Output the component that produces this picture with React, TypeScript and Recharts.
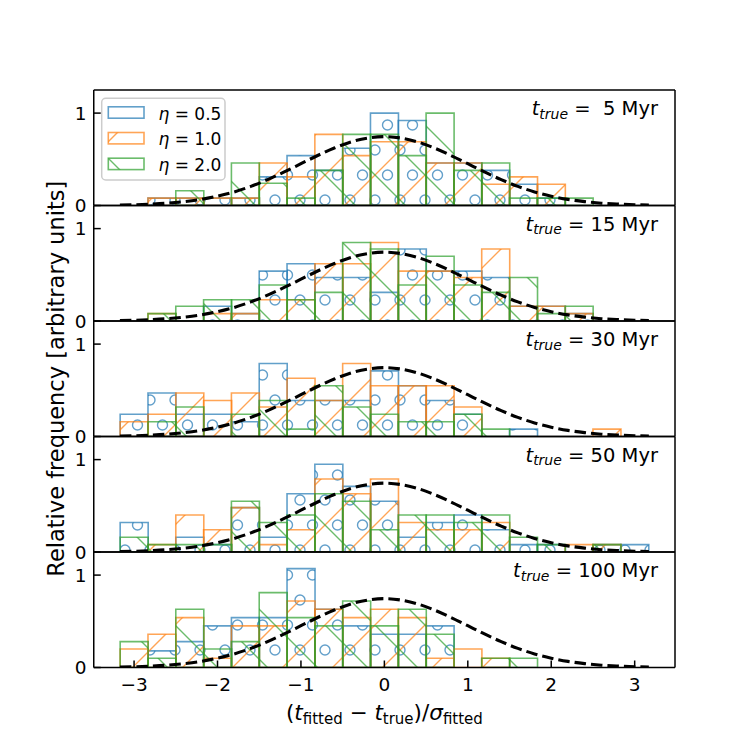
import React from 'react';
import { ComposedChart, Bar, Line, XAxis, YAxis, Legend, Customized } from 'recharts';

// ---- colours & fonts -------------------------------------------------------
const BLUE = '#1f77b4';
const ORANGE = '#ff7f0e';
const GREEN = '#2ca02c';
const ALPHA = 0.7;
const FONT = '"DejaVu Sans", "Liberation Sans", sans-serif';

// ---- figure layout ---------------------------------------------------------
const FIG = 750;
const AX_LEFT = 93.75;
const AX_RIGHT = 675;
const AX_TOP = 90;
const AX_BOTTOM = 667.5;
const N_PANELS = 5;
const PANEL_H = (AX_BOTTOM - AX_TOP) / N_PANELS;

// ---- axes ------------------------------------------------------------------
const BIN_EDGE = 19 / 6; // histogram range is [-BIN_EDGE, BIN_EDGE]
const X_LIM = BIN_EDGE * 1.1;
const Y_MAX = 1.25;
const X_TICKS = [-3, -2, -1, 0, 1, 2, 3];
const Y_TICKS = [0, 1];

// ---- data ------------------------------------------------------------------
const BIN_CENTERS = [
  '-3.00', '-2.67', '-2.33', '-2.00', '-1.67', '-1.33', '-1.00', '-0.67', '-0.33', '0.00',
  '0.33', '0.67', '1.00', '1.33', '1.67', '2.00', '2.33', '2.67', '3.00',
];

const AGE_LABELS = [' 5', '15', '30', '50', '100'];
const ETA_LABELS = ['0.5', '1.0', '2.0'];

// eta = 0.5
const ETA05_5 = [0, 0.08, 0.08, 0.08, 0.08, 0.31, 0.54, 0.38, 0.62, 1.0, 0.92, 0.46, 0.46, 0.38, 0.23, 0.08, 0, 0, 0];
const ETA05_15 = [0, 0, 0, 0.16, 0.08, 0.54, 0.62, 0.47, 0.47, 0.31, 0.78, 0.54, 0.54, 0.47, 0.16, 0.16, 0.08, 0, 0];
const ETA05_30 = [0.24, 0.47, 0.24, 0.24, 0.16, 0.79, 0.39, 0.39, 0.39, 0.71, 0.55, 0.39, 0.24, 0, 0.08, 0, 0, 0, 0];
const ETA05_50 = [0.32, 0, 0.16, 0.08, 0.48, 0.16, 0.63, 0.95, 0.71, 0.55, 0.16, 0.32, 0.4, 0.24, 0.08, 0.08, 0, 0.08, 0.08];
const ETA05_100 = [0, 0.18, 0.28, 0.45, 0.54, 0.54, 1.07, 0.63, 0.45, 0.36, 0.36, 0.45, 0, 0, 0, 0, 0, 0, 0];

// eta = 1.0
const ETA10_5 = [0, 0.08, 0.08, 0.08, 0.08, 0.46, 0.31, 0.77, 0.54, 0.69, 0.69, 0.46, 0.46, 0.23, 0.31, 0.23, 0, 0, 0];
const ETA10_15 = [0, 0.08, 0, 0.08, 0.08, 0.23, 0.23, 0.62, 0.62, 0.85, 0.54, 0.54, 0.47, 0.78, 0.16, 0.16, 0.08, 0, 0];
const ETA10_30 = [0.16, 0.24, 0.47, 0.39, 0.47, 0.32, 0.63, 0.39, 0.79, 0.55, 0.55, 0.55, 0.32, 0, 0, 0, 0, 0.08, 0];
const ETA10_50 = [0, 0.08, 0.4, 0.24, 0.48, 0.08, 0.24, 0.79, 0.63, 0.79, 0.32, 0.24, 0.24, 0.32, 0, 0, 0.08, 0.08, 0];
const ETA10_100 = [0.2, 0.36, 0.54, 0.1, 0.45, 0.45, 0.72, 0.63, 0.54, 0.63, 0.54, 0.1, 0.2, 0.1, 0, 0, 0, 0, 0];

// eta = 2.0
const ETA20_5 = [0, 0, 0.16, 0, 0.46, 0.24, 0.08, 0.38, 0.77, 0.77, 0.54, 1.0, 0.38, 0.46, 0.08, 0.08, 0.08, 0, 0];
const ETA20_15 = [0, 0.08, 0.16, 0.23, 0.23, 0.39, 0.23, 0.31, 0.85, 0.78, 0.39, 0.7, 0.39, 0.31, 0.47, 0.08, 0.16, 0, 0];
const ETA20_30 = [0, 0.16, 0.32, 0, 0.24, 0.39, 0.08, 0.55, 0.32, 0.24, 0.16, 0.16, 0.24, 0.08, 0, 0, 0, 0, 0];
const ETA20_50 = [0.16, 0.08, 0.08, 0.08, 0.55, 0.32, 0.4, 0.63, 0.55, 0.24, 0.4, 0.4, 0.32, 0.4, 0.16, 0.08, 0, 0.08, 0];
const ETA20_100 = [0.28, 0.1, 0.63, 0.2, 0.28, 0.81, 0.54, 0.45, 0.72, 0.45, 0.63, 0.36, 0, 0.1, 0.1, 0, 0, 0, 0];

const ETA05 = [ETA05_5, ETA05_15, ETA05_30, ETA05_50, ETA05_100];
const ETA10 = [ETA10_5, ETA10_15, ETA10_30, ETA10_50, ETA10_100];
const ETA20 = [ETA20_5, ETA20_15, ETA20_30, ETA20_50, ETA20_100];

// reference normal curve (same in every panel)
const CURVE_X = [
  -3.17, -3.0, -2.8, -2.6, -2.4, -2.2, -2.0, -1.8, -1.6, -1.4, -1.2, -1.0, -0.8, -0.6, -0.4, -0.2, 0,
  0.2, 0.4, 0.6, 0.8, 1.0, 1.2, 1.4, 1.6, 1.8, 2.0, 2.2, 2.4, 2.6, 2.8, 3.0, 3.17,
];
const CURVE_Y = [
  0.005, 0.008, 0.015, 0.025, 0.042, 0.066, 0.101, 0.147, 0.207, 0.28, 0.363, 0.452, 0.541, 0.622, 0.688, 0.73, 0.745,
  0.73, 0.688, 0.622, 0.541, 0.452, 0.363, 0.28, 0.207, 0.147, 0.101, 0.066, 0.042, 0.025, 0.015, 0.008, 0.005,
];
const CURVE = CURVE_X.map((x, i) => ({ x, y: CURVE_Y[i] }));

const SERIES = [
  { key: 'eta05', color: BLUE, hatch: 'o', values: ETA05, label: ETA_LABELS[0] },
  { key: 'eta10', color: ORANGE, hatch: 'ne', values: ETA10, label: ETA_LABELS[1] },
  { key: 'eta20', color: GREEN, hatch: 'se', values: ETA20, label: ETA_LABELS[2] },
];

const AXIS_STYLE = { stroke: '#000', strokeWidth: 1.5 };
const TICK_FONT = { fontSize: 18.5, fill: '#000', fontFamily: FONT };
const minus = (v: number) => String(v).replace('-', '\u2212');

// hatch patterns anchored to page coordinates so they run on across panels
function HatchDefs({ id }: { id: string }) {
  const hs = { strokeOpacity: ALPHA, strokeWidth: 1.4, fill: 'none' };
  return (
    <defs>
      <pattern id={`${id}-o`} patternUnits="userSpaceOnUse" x={0} y={0} width={25} height={50}>
        {[
          [0, 0],
          [25, 0],
          [0, 50],
          [25, 50],
          [12.5, 25],
        ].map(([cx, cy], k) => (
          <circle key={k} cx={cx} cy={cy} r={5} stroke={BLUE} {...hs} />
        ))}
      </pattern>
      <pattern id={`${id}-ne`} patternUnits="userSpaceOnUse" x={0} y={0} width={50} height={50}>
        <path d="M-10,60 L60,-10 M-10,10 L10,-10 M40,60 L60,40" stroke={ORANGE} {...hs} />
      </pattern>
      <pattern id={`${id}-se`} patternUnits="userSpaceOnUse" x={0} y={0} width={50} height={50}>
        <path d="M-10,-10 L60,60 M40,-10 L60,10 M-10,40 L10,60" stroke={GREEN} {...hs} />
      </pattern>
    </defs>
  );
}

function LegendBox() {
  return (
    <svg width={240} height={190} style={{ display: 'block', overflow: 'visible' }}>
      <HatchDefs id="lg" />
      <rect x={101.7} y={98.3} width={123.3} height={81.7} rx={4} fill="#fff" fillOpacity={0.8} stroke="#cccccc" strokeWidth={1.5} />
      {SERIES.map((s, i) => (
        <g key={s.key}>
          <rect
            x={108.3}
            y={106.8 + i * 25.7}
            width={35.7}
            height={11.4}
            fill={`url(#lg-${s.hatch})`}
            stroke={s.color}
            strokeOpacity={ALPHA}
            strokeWidth={1.6}
          />
          <text x={158.5} y={119.5 + i * 25.7} fontFamily={FONT} fontSize={17} fill="#000" xmlSpace="preserve">
            <tspan fontStyle="italic">η</tspan>
            <tspan>{` = ${s.label}`}</tspan>
          </text>
        </g>
      ))}
    </svg>
  );
}

function PanelText({ index }: { index: number }) {
  const top = AX_TOP + PANEL_H * index;
  const isLast = index === N_PANELS - 1;
  return (
    <g fontFamily={FONT} fill="#000">
      <text x={658} y={top + 25} textAnchor="end" fontSize={19.5} xmlSpace="preserve" style={{ whiteSpace: 'pre' }}>
        <tspan fontStyle="italic">t</tspan>
        <tspan fontStyle="italic" fontSize={14} dy={3.5}>true</tspan>
        <tspan dy={-3.5}>{` = ${AGE_LABELS[index]} Myr`}</tspan>
      </text>
      {index === 2 && (
        <text
          transform={`translate(64, ${(AX_TOP + AX_BOTTOM) / 2}) rotate(-90)`}
          textAnchor="middle"
          fontSize={22.5}
        >
          Relative frequency [arbitrary units]
        </text>
      )}
      {isLast && (
        <text x={(AX_LEFT + AX_RIGHT) / 2} y={720} textAnchor="middle" fontSize={21.5} xmlSpace="preserve">
          <tspan>(</tspan>
          <tspan fontStyle="italic">t</tspan>
          <tspan fontSize={15} dy={4}>fitted</tspan>
          <tspan dy={-4}>{' \u2212 '}</tspan>
          <tspan fontStyle="italic">t</tspan>
          <tspan fontSize={15} dy={4}>true</tspan>
          <tspan dy={-4}>)/</tspan>
          <tspan fontStyle="italic">σ</tspan>
          <tspan fontSize={15} dy={4}>fitted</tspan>
        </text>
      )}
    </g>
  );
}

function Panel({ index }: { index: number }) {
  const top = AX_TOP + PANEL_H * index;
  const bottom = top + PANEL_H;
  const isLast = index === N_PANELS - 1;
  const pid = `h${index}`;
  const data = BIN_CENTERS.map((c, k) => ({
    c,
    eta05: ETA05[index][k],
    eta10: ETA10[index][k],
    eta20: ETA20[index][k],
  }));
  // band axes cover exactly the histogram range inside the x limits
  const pad = ((X_LIM - BIN_EDGE) / (2 * X_LIM)) * (AX_RIGHT - AX_LEFT);

  return (
    <div style={{ position: 'absolute', left: 0, top: 0 }}>
      <ComposedChart
        width={FIG}
        height={FIG}
        data={data}
        margin={{ top: top - 1, bottom: FIG - bottom - 1, left: AX_LEFT - 1, right: FIG - AX_RIGHT - 1 }}
        barCategoryGap={0}
        barGap={0}
      >
        <HatchDefs id={pid} />
        <XAxis
          xAxisId="num"
          type="number"
          dataKey="x"
          domain={[-X_LIM, X_LIM]}
          allowDataOverflow
          ticks={X_TICKS}
          interval={0}
          height={1}
          tickSize={-7}
          tickMargin={17.5}
          tick={isLast ? TICK_FONT : false}
          tickFormatter={minus}
          axisLine={AXIS_STYLE}
          tickLine={AXIS_STYLE}
        />
        <XAxis
          xAxisId="top"
          orientation="top"
          type="number"
          domain={[-X_LIM, X_LIM]}
          allowDataOverflow
          ticks={X_TICKS}
          interval={0}
          height={1}
          tickSize={-7}
          tick={false}
          axisLine={AXIS_STYLE}
          tickLine={AXIS_STYLE}
        />
        {SERIES.map((s) => (
          <XAxis
            key={s.key}
            xAxisId={s.key}
            dataKey="c"
            type="category"
            orientation="top"
            height={0}
            hide
            padding={{ left: pad, right: pad }}
          />
        ))}
        <YAxis
          yAxisId="y"
          type="number"
          domain={[0, Y_MAX]}
          allowDataOverflow
          ticks={Y_TICKS}
          interval={0}
          width={1}
          tickSize={-7}
          tickMargin={14.3}
          tick={TICK_FONT}
          axisLine={AXIS_STYLE}
          tickLine={AXIS_STYLE}
        />
        <YAxis
          yAxisId="r"
          orientation="right"
          type="number"
          domain={[0, Y_MAX]}
          allowDataOverflow
          ticks={Y_TICKS}
          interval={0}
          width={1}
          tickSize={-7}
          tick={false}
          axisLine={AXIS_STYLE}
          tickLine={AXIS_STYLE}
        />
        {SERIES.map((s) => (
          <Bar
            key={s.key}
            xAxisId={s.key}
            yAxisId="y"
            dataKey={s.key}
            name={`η = ${s.label}`}
            fill={`url(#${pid}-${s.hatch})`}
            stroke={s.color}
            strokeOpacity={ALPHA}
            strokeWidth={1.6}
            isAnimationActive={false}
          />
        ))}
        <Line
          xAxisId="num"
          yAxisId="y"
          data={CURVE}
          dataKey="y"
          type="monotone"
          stroke="#000"
          strokeWidth={3.1}
          strokeDasharray="11.5 5"
          dot={false}
          activeDot={false}
          legendType="none"
          isAnimationActive={false}
        />
        {index === 0 && (
          <Legend
            layout="vertical"
            align="center"
            verticalAlign="middle"
            wrapperStyle={{ left: 0, top: 0, width: 240, height: 190 }}
            content={() => <LegendBox />}
          />
        )}
        <Customized component={() => <PanelText index={index} />} />
      </ComposedChart>
    </div>
  );
}

export default function App() {
  return (
    <div style={{ position: 'absolute', left: 0, top: 0, width: FIG, height: FIG, background: '#fff' }}>
      {Array.from({ length: N_PANELS }, (_, i) => (
        <Panel key={i} index={i} />
      ))}
    </div>
  );
}
